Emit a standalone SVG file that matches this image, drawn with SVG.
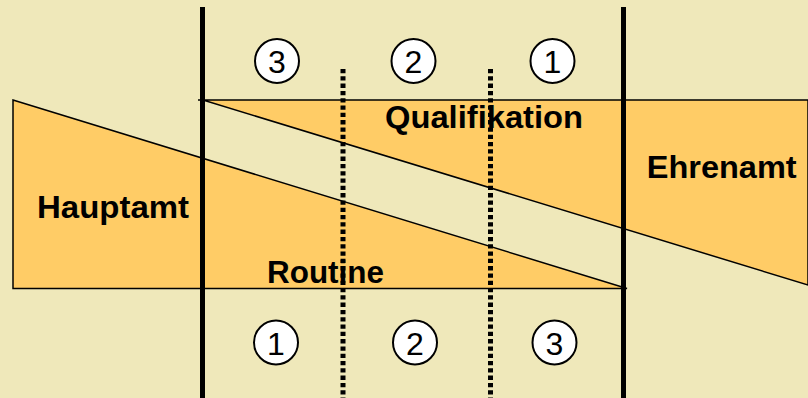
<svg xmlns="http://www.w3.org/2000/svg" width="808" height="398" viewBox="0 0 808 398">
<style>
.area{fill:#FFCC66;stroke:#000;stroke-width:1.5;stroke-linejoin:miter}
.lbl{font-family:"Liberation Sans",Arial,sans-serif;font-weight:bold;font-size:31px;fill:#000}
.num{font-family:"Liberation Sans",Arial,sans-serif;font-size:32px;fill:#000;text-anchor:middle}
.circ{fill:#fff;stroke:#000;stroke-width:2}
.thick{stroke:#000;stroke-width:5}
.dot{stroke:#000;stroke-width:5;stroke-dasharray:4.3 3}
</style>
<rect width="808" height="398" fill="#EFE8BA"/>
<g id="hauptamt-routine">
<polygon class="area" points="13,100 627,288.5 13,288.5"/>
<text class="lbl" x="37" y="218.3" textLength="152" lengthAdjust="spacingAndGlyphs">Hauptamt</text>
<text class="lbl" x="267" y="283.3" textLength="117" lengthAdjust="spacingAndGlyphs">Routine</text>
</g>
<g id="qualifikation-ehrenamt">
<polygon class="area" points="198,100 808,100 808,285 203,100"/>
<text class="lbl" x="385" y="128.3" textLength="198" lengthAdjust="spacingAndGlyphs">Qualifikation</text>
<text class="lbl" x="646.7" y="178.3" textLength="150" lengthAdjust="spacingAndGlyphs">Ehrenamt</text>
</g>
<g id="connectors">
<line class="thick" x1="202.5" y1="7" x2="202.5" y2="398"/>
<line class="thick" x1="623.5" y1="7" x2="623.5" y2="398"/>
<line class="dot" x1="343" y1="69" x2="343" y2="398"/>
<line class="dot" x1="490.5" y1="69" x2="490.5" y2="398"/>
</g>
<g id="top-3"><circle class="circ" cx="277" cy="61" r="22"/><text class="num" x="277" y="73">3</text></g>
<g id="top-2"><circle class="circ" cx="413.5" cy="61" r="22"/><text class="num" x="413.5" y="73">2</text></g>
<g id="top-1"><circle class="circ" cx="552.5" cy="61" r="22"/><text class="num" x="552.5" y="73">1</text></g>
<g id="bottom-1"><circle class="circ" cx="276" cy="342.5" r="22"/><text class="num" x="276" y="354.5">1</text></g>
<g id="bottom-2"><circle class="circ" cx="415" cy="342.5" r="22"/><text class="num" x="415" y="354.5">2</text></g>
<g id="bottom-3"><circle class="circ" cx="554.5" cy="342.5" r="22"/><text class="num" x="554.5" y="354.5">3</text></g>
</svg>
